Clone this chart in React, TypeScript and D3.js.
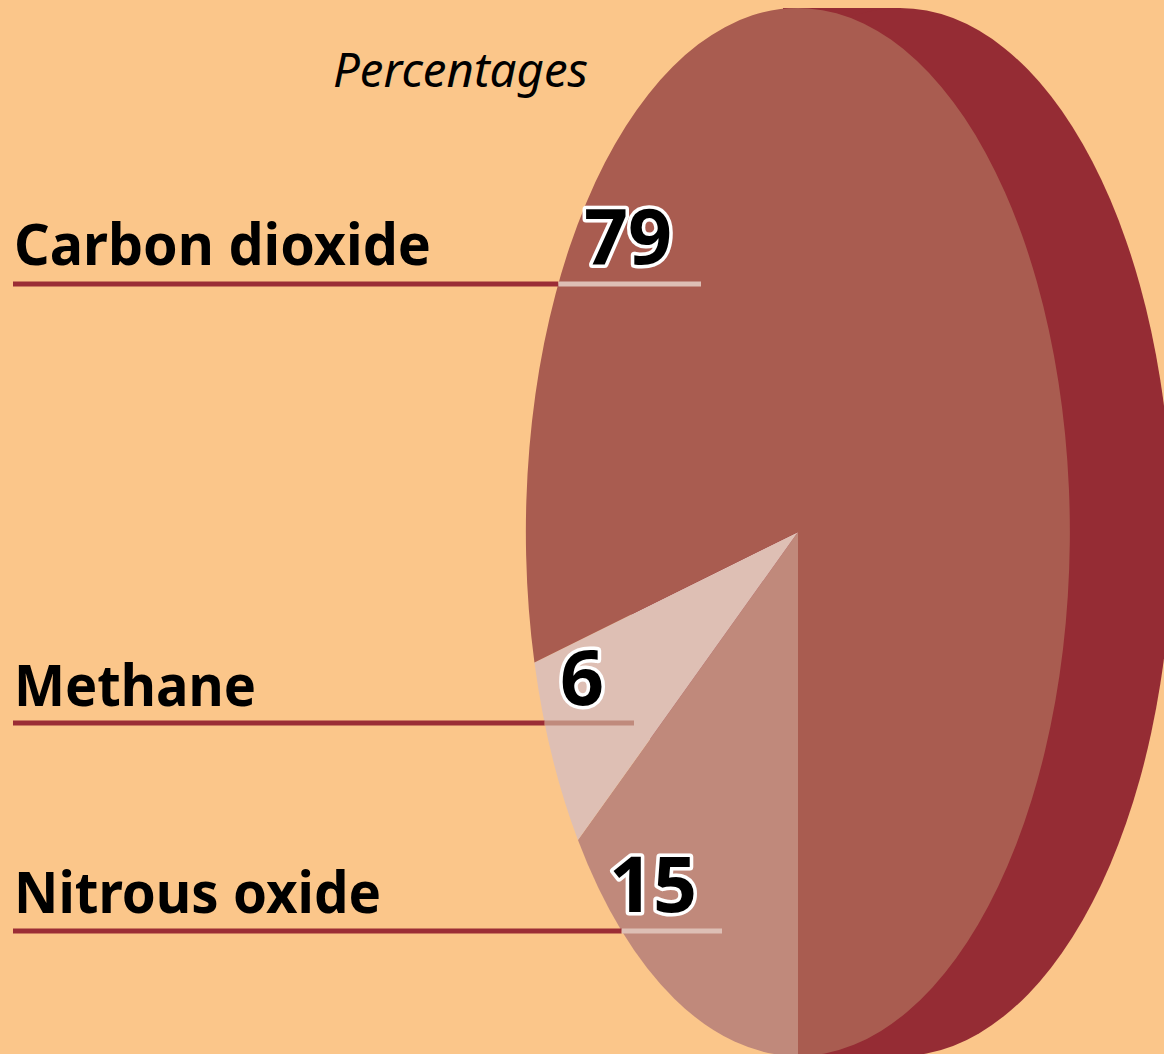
import * as d3 from "d3";
import React, { useRef, useEffect } from "react";

// shares in percent
const categories = ["Carbon dioxide", "Methane", "Nitrous oxide"];
const values = [79, 6, 15];
// drawing order round the pie, starting at 6 o'clock
const pieOrder = ["Nitrous oxide", "Methane", "Carbon dioxide"];
const title = "Percentages";

const colors: Record<string, string> = {
  "Carbon dioxide": "#a95c50",
  Methane: "#debfb4",
  "Nitrous oxide": "#c0897b",
};
const lineInside: Record<string, string> = {
  "Carbon dioxide": "#ddbfb5",
  Methane: "#c08a7c",
  "Nitrous oxide": "#ddbfb5",
};

// label layout: baseline of the name, y of the rule, end of the rule, number centre
const layout: Record<string, any> = {
  "Carbon dioxide": { y: 265, lineY: 284, lineEnd: 701, numX: 628 },
  Methane: { y: 706, lineY: 723, lineEnd: 634, numX: 582 },
  "Nitrous oxide": { y: 913, lineY: 931, lineEnd: 722, numX: 653 },
};
const nameWidths: Record<string, number> = {
  "Carbon dioxide": 417,
  Methane: 242,
  "Nitrous oxide": 367,
};

const W = 1164;
const H = 1054;
const bg = "#fbc68a";
const side = "#952c34";
const rule = "#9b2d35";
const font = "'Noto Sans', 'Open Sans', sans-serif";

const drawChart = (el: SVGSVGElement) => {
  const cx = 798;
  const cy = 532;
  const rx = 272;
  const ry = 524;
  const depth = 102;

  const svg = d3.select(el);
  svg.selectAll("*").remove();

  svg.append("rect").attr("width", W).attr("height", H).attr("fill", bg);

  // side of the disc
  svg
    .append("rect")
    .attr("x", cx - 15)
    .attr("y", cy - ry)
    .attr("width", depth + 15)
    .attr("height", ry * 2)
    .attr("fill", side);
  svg
    .append("ellipse")
    .attr("cx", cx + depth)
    .attr("cy", cy)
    .attr("rx", rx)
    .attr("ry", ry)
    .attr("fill", side);

  const valueOf = (name: string) => values[categories.indexOf(name)];

  const pie = d3
    .pie<string>()
    .sort(null)
    .value((d) => valueOf(d))
    .startAngle(Math.PI)
    .endAngle(Math.PI * 3);

  const arc = d3.arc<d3.PieArcDatum<string>>().innerRadius(0).outerRadius(1);

  const gPie = svg
    .append("g")
    .attr("transform", "translate(" + cx + "," + cy + ") scale(" + rx + "," + ry + ")");

  gPie
    .selectAll("path")
    .data(pie(pieOrder))
    .join("path")
    .attr("d", arc)
    .attr("fill", (d) => colors[d.data]);

  // left edge of the face at a given height
  const edgeX = (y: number) =>
    cx - rx * Math.sqrt(Math.max(0, 1 - ((y - cy) / ry) ** 2));

  categories.forEach((name) => {
    const l = layout[name];
    const xe = edgeX(l.lineY);

    svg
      .append("line")
      .attr("x1", 13)
      .attr("x2", xe)
      .attr("y1", l.lineY)
      .attr("y2", l.lineY)
      .style("stroke", rule)
      .style("stroke-width", "5px");

    svg
      .append("line")
      .attr("x1", xe)
      .attr("x2", l.lineEnd)
      .attr("y1", l.lineY)
      .attr("y2", l.lineY)
      .style("stroke", lineInside[name])
      .style("stroke-width", "5px");

    svg
      .append("text")
      .attr("x", 14)
      .attr("y", l.y)
      .attr("textLength", nameWidths[name])
      .attr("lengthAdjust", "spacingAndGlyphs")
      .style("font-family", font)
      .style("font-weight", "700")
      .style("font-size", "58px")
      .style("fill", "#000")
      .text(name);

    svg
      .append("text")
      .attr("x", l.numX)
      .attr("y", l.y - 1)
      .attr("text-anchor", "middle")
      .style("font-family", font)
      .style("font-weight", "700")
      .style("font-size", "77px")
      .style("fill", "#000")
      .style("stroke", "#fff")
      .style("stroke-width", "7px")
      .style("stroke-linejoin", "round")
      .style("paint-order", "stroke")
      .text(String(valueOf(name)));
  });

  svg
    .append("text")
    .attr("x", 333)
    .attr("y", 87)
    .attr("textLength", 255)
    .attr("lengthAdjust", "spacingAndGlyphs")
    .style("font-family", font)
    .style("font-style", "italic")
    .style("font-size", "48px")
    .style("fill", "#000")
    .text(title);
};

const App = () => {
  const myRef = useRef<SVGSVGElement>(null);

  useEffect(() => {
    document.body.style.margin = "0";
    if (myRef.current) drawChart(myRef.current);
  }, []);

  return (
    <svg
      ref={myRef}
      width={W}
      height={H}
      style={{ display: "block", position: "absolute", left: 0, top: 0 }}
    />
  );
};

export default App;
